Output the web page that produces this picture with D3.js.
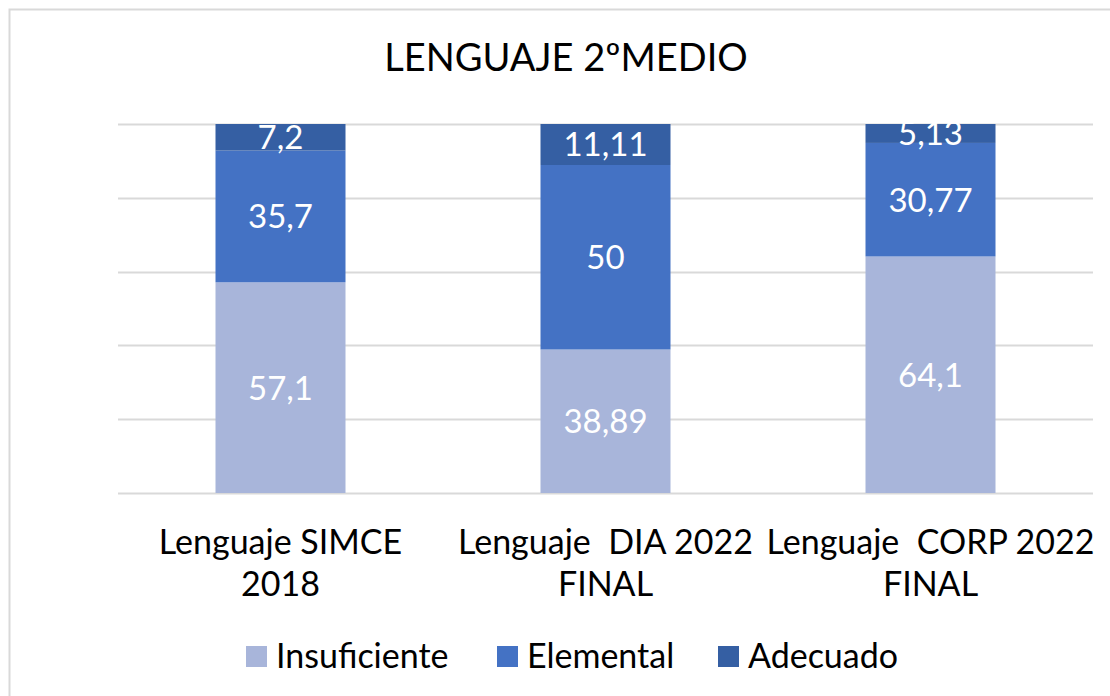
<!DOCTYPE html>
<html>
<head>
<meta charset="utf-8">
<script src="https://cdn.jsdelivr.net/npm/d3@7"></script>
<style>
  body { margin: 0; background: #fff; }
  svg { font-family: Lato, "Open Sans", sans-serif; }
</style>
</head>
<body>
<script>
/* Chart data */
var categories = [["Lenguaje SIMCE", "2018"], ["Lenguaje  DIA 2022", "FINAL"], ["Lenguaje  CORP 2022", "FINAL"]];
var seriesNames = ["Insuficiente", "Elemental", "Adecuado"];
var insuficiente = [57.1, 38.89, 64.1];
var elemental = [35.7, 50, 30.77];
var adecuado = [7.2, 11.11, 5.13];
var labelText = [["57,1", "38,89", "64,1"], ["35,7", "50", "30,77"], ["7,2", "11,11", "5,13"]];
var yTicks = [0, 20, 40, 60, 80, 100];

var colours = ["#a8b5da", "#4472c4", "#355fa3"];

var width = 1110;
var height = 696;

var svg = d3.select("body").append("svg")
            .attr("width", width)
            .attr("height", height);

/* chart frame */
svg.append("rect")
   .attr("x", 9.5).attr("y", 9.5)
   .attr("width", 1130).attr("height", 720)
   .attr("fill", "#fff")
   .attr("stroke", "#d9d9d9")
   .attr("stroke-width", 2);

/* Title */
svg.append("text")
   .attr("x", 566).attr("y", 71)
   .attr("text-anchor", "middle")
   .style("font-size", "38px")
   .attr("fill", "#000")
   .text("LENGUAJE 2ºMEDIO");

var x = d3.scaleBand()
          .domain(d3.range(categories.length))
          .range([118, 1093])
          .paddingInner(0.6)
          .paddingOuter(0.3);

var y = d3.scaleLinear()
          .domain([0, 100])
          .range([493, 124]);

/* gridlines */
svg.append("g").selectAll("line")
   .data(yTicks)
   .enter()
   .append("line")
   .attr("x1", 118).attr("x2", 1093)
   .attr("y1", function(d) { return Math.round(y(d)) + 0.5; })
   .attr("y2", function(d) { return Math.round(y(d)) + 0.5; })
   .attr("stroke", "#d9d9d9")
   .attr("stroke-width", 2);

/* stack the series */
var rows = categories.map(function(c, i) {
  return {Insuficiente: insuficiente[i], Elemental: elemental[i], Adecuado: adecuado[i]};
});
var stacked = d3.stack().keys(seriesNames)(rows);

var layer = svg.append("g").selectAll("g")
               .data(stacked)
               .enter()
               .append("g")
               .attr("fill", function(d, i) { return colours[i]; });

layer.selectAll("rect")
     .data(function(d) { return d; })
     .enter()
     .append("rect")
     .attr("x", function(d, i) { return x(i); })
     .attr("width", x.bandwidth())
     .attr("y", function(d) { return y(d[1]); })
     .attr("height", function(d) { return y(d[0]) - y(d[1]); });

/* data labels */
layer.each(function(s, si) {
  d3.select(this).selectAll("text")
    .data(s)
    .enter()
    .append("text")
    .attr("x", function(d, i) { return x(i) + x.bandwidth() / 2; })
    .attr("y", function(d) { return (y(d[0]) + y(d[1])) / 2; })
    .attr("dy", "0.36em")
    .attr("text-anchor", "middle")
    .attr("fill", "#fff")
    .style("font-size", "33px")
    .text(function(d, i) { return labelText[si][i]; });
});

/* category labels */
var catLabels = svg.append("g").selectAll("text")
   .data(categories)
   .enter()
   .append("text")
   .attr("text-anchor", "middle")
   .style("font-size", "34px")
   .style("white-space", "pre")
   .attr("fill", "#000");

catLabels.each(function(c, i) {
  var t = d3.select(this);
  c.forEach(function(line, li) {
    t.append("tspan")
     .attr("x", x(i) + x.bandwidth() / 2)
     .attr("y", 554 + li * 42)
     .text(line);
  });
});

/* legend */
var legendX = [246, 497, 718];
var legend = svg.append("g").selectAll("g")
   .data(seriesNames)
   .enter()
   .append("g")
   .attr("transform", function(d, i) { return "translate(" + legendX[i] + ",646)"; });

legend.append("rect")
      .attr("width", 21).attr("height", 21)
      .attr("fill", function(d, i) { return colours[i]; });

legend.append("text")
      .attr("x", 30).attr("y", 22)
      .style("font-size", "34px")
      .attr("fill", "#000")
      .text(function(d) { return d; });
</script>
</body>
</html>
